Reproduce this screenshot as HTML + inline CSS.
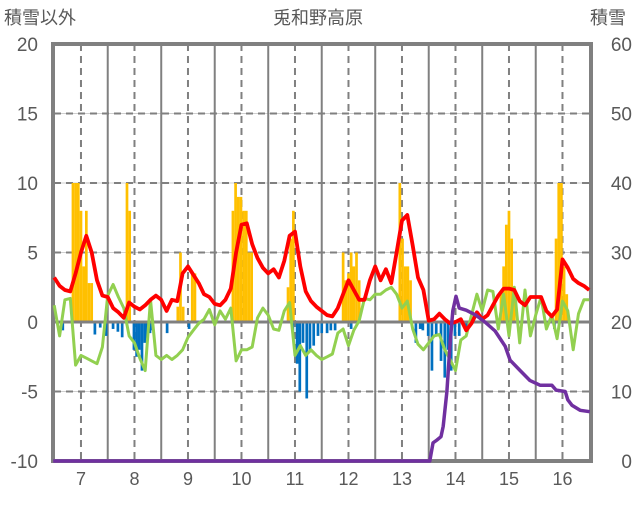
<!DOCTYPE html>
<html><head><meta charset="utf-8">
<style>
html,body{margin:0;padding:0;background:#fff;}
svg text{font-family:"Liberation Sans","Noto Sans CJK JP",sans-serif;fill:#595959;}
</style></head>
<body>
<svg id="chart" width="636" height="501" viewBox="0 0 636 501" xmlns="http://www.w3.org/2000/svg">
<g id="grid"></g>
<g id="bars"></g>
<g id="lines"></g>
<g id="axes"></g>
<text x="318" y="24" text-anchor="middle" font-size="18">兎和野高原</text>
<text x="4" y="24" font-size="18">積雪以外</text>
<text x="590" y="24" font-size="18">積雪</text>
</svg>
<script>
const xTicks=[7,8,9,10,11,12,13,14,15,16];
const yLeftTicks=[-10,-5,0,5,10,15,20];
const yRightTicks=[0,10,20,30,40,50,60];
const lineT0=6.5, lineDt=0.1;
const redValues=[3.2,2.6,2.3,2.2,3.5,5.0,6.2,5.0,3.0,1.9,1.8,1.0,0.7,0.3,1.4,1.1,0.9,1.2,1.6,1.9,1.6,0.8,1.6,1.5,3.5,4.0,3.4,2.8,2.0,1.8,1.3,1.2,1.6,2.4,5.0,7.0,7.1,5.6,4.6,3.9,3.5,3.8,3.2,4.4,6.2,6.5,4.0,2.2,1.5,1.1,0.8,0.5,0.4,1.0,2.0,3.0,2.3,1.6,1.6,3.0,4.0,3.0,3.8,2.8,5.0,7.3,7.7,5.5,3.2,2.3,0.1,0.2,0.6,0.2,-0.1,0,0.2,-0.6,-0.1,0.7,0.2,0.5,1.2,1.9,2.4,2.4,2.3,1.5,1.2,1.8,1.8,1.8,0.8,0.4,0.9,4.5,3.9,3.1,2.8,2.6,2.3];
const greenValues=[1.2,-1.0,1.6,1.7,-3.1,-2.4,-2.6,-2.8,-3.0,-1.8,1.9,2.7,1.8,1.0,-1.0,-1.5,-2.6,-3.5,1.6,-2.4,-2.7,-2.4,-2.7,-2.4,-2.0,-1.1,-0.6,-0.1,0.2,0.9,-0.2,0.8,0.2,1.0,-2.8,-2.0,-2.0,-1.8,0.3,1.0,0.5,-0.5,-0.6,0.8,1.4,-2.4,-1.7,-2.4,-2.0,-2.4,-2.7,-2.5,-2.3,-0.8,-0.5,-1.7,-0.6,0.1,1.7,1.6,2.0,2.0,2.3,2.5,2.0,1.0,1.5,-0.5,-1.6,-2.0,-1.5,-1.0,-0.9,-2.0,-2.7,-3.5,-1.3,-1.0,0.5,2.0,0.8,2.3,2.2,-0.5,2.0,-1.0,2.5,-1.5,2.3,-1.0,0.5,1.8,-0.5,0.5,-1.2,1.5,0.8,-2.0,0.6,1.6,1.6];
const snowDays=[6.48,13.52,13.58,13.65,13.73,13.77,13.84,13.90,13.95,14.01,14.07,14.20,14.38,14.55,14.74,14.93,15.02,15.21,15.39,15.58,15.80,15.88,16.05,16.10,16.18,16.33,16.51];
const snowDepth=[0,0,2.6,3,3.5,5,10,17,21.6,23.7,22,21.7,21,20,18.7,16.5,14.5,13,11.6,10.9,10.9,10.2,10,8.8,8,7.3,7.1];
const posBarDays=[6.85,6.90,6.95,7.00,7.05,7.10,7.15,7.20,7.86,7.91,8.81,8.86,8.91,9.08,9.13,9.84,9.89,9.94,9.99,10.04,10.09,10.14,10.19,10.87,10.92,10.97,11.90,11.95,12.00,12.05,12.10,12.15,12.20,12.96,13.01,13.06,13.11,13.16,14.85,14.90,14.95,15.00,15.05,15.10,15.88,15.93,15.98,16.03,16.08];
const posBarValues=[10,10,10,8,4,8,2.8,2.8,10,8,1.1,5,1.1,3.5,3.5,8,10,9,9,8,8,5,5,2.5,6,8,5,3,3.5,5,4,5,3,10,6,4,4,3,2,4,7,8,6,2,6,10,10,4,2];
const negBarDays=[6.66,7.26,7.36,7.47,7.60,7.69,7.77,7.99,8.04,8.09,8.14,8.19,8.24,8.29,8.34,8.61,9.02,10.96,11.04,11.09,11.15,11.22,11.28,11.35,11.43,11.50,11.60,11.67,11.75,12.05,13.26,13.34,13.39,13.49,13.56,13.64,13.73,13.80,13.86,13.92,13.99,14.07,14.20,15.85];
const negBarValues=[-0.6,-0.9,-0.4,-1.0,-0.5,-0.7,-1.1,-2.0,-2.5,-2.0,-3.5,-1.5,-1.2,-0.8,-0.6,-0.8,-0.5,-0.8,-3,-5,-1.5,-5.5,-2,-1.7,-1.0,-0.8,-0.8,-0.6,-0.6,-0.5,-1.5,-0.5,-0.6,-1.0,-3.5,-1.0,-2.8,-4,-2,-3.5,-1.0,-1.0,-0.5,-0.5];

const L=54,R=591,T=44,B=461,D0=6.477,PXD=53.5;
const X=d=>L-1+(d-D0)*PXD;
const YL=v=>B-(v+10)/30*(B-T);
const YR=v=>B-v/60*(B-T);
const NS='http://www.w3.org/2000/svg';
function mk(tag,attrs,parent){const e=document.createElementNS(NS,tag);for(const k in attrs)e.setAttribute(k,attrs[k]);parent.appendChild(e);return e;}
const grid=document.getElementById('grid'),bars=document.getElementById('bars'),lines=document.getElementById('lines'),axes=document.getElementById('axes');

yLeftTicks.forEach(v=>{
  if(v===-10||v===20||v===0)return;
  const y=YL(v);
  const a=mk('line',{x1:L,x2:R,y1:y,y2:y,stroke:'#d0d0d0','stroke-width':1},grid);
  
  
  const b=mk('line',{x1:L,x2:R,y1:y,y2:y,stroke:'#808080','stroke-width':2,'stroke-dasharray':'7,5'},grid);
  
  
});
xTicks.forEach(d=>{
  const x=X(d);
  const a=mk('line',{x1:x,x2:x,y1:T,y2:B,stroke:'#808080','stroke-width':2,'stroke-dasharray':'7,5'},grid);
  
  
  const xs=X(d+0.5);
  if(xs<R-2){
    const b=mk('line',{x1:xs,x2:xs,y1:T,y2:B,stroke:'#808080','stroke-width':2},grid);
    
    
  }
  const t=mk('text',{x:x,y:485,'text-anchor':'middle','font-size':18},axes);
  t.textContent=d;
  
  
});
const bw=2.7;
posBarDays.forEach((d,i)=>{
  const y=YL(posBarValues[i]),y0=YL(0);
  const r=mk('rect',{x:X(d)-bw/2,y:y,width:bw,height:y0-y,fill:'#FFC000'},bars);
  
  
});
negBarDays.forEach((d,i)=>{
  const y=YL(negBarValues[i]),y0=YL(0);
  const r=mk('rect',{x:X(d)-bw/2,y:y0,width:bw,height:y-y0,fill:'#0070C0'},bars);
  
  
});
const z=mk('line',{x1:L,x2:R,y1:YL(0),y2:YL(0),stroke:'#808080','stroke-width':3},grid.parentNode);


lines.parentNode.appendChild(lines);

function poly(vals,color,w,name){
  const pts=vals.map((v,i)=>X(lineT0+i*lineDt).toFixed(1)+','+YL(v).toFixed(1)).join(' ');
  const p=mk('polyline',{points:pts,fill:'none',stroke:color,'stroke-width':w,'stroke-linejoin':'round'},lines);
  
  
}
poly(greenValues,'#92D050',3,'green-series-line');
poly(redValues,'#FF0000',3.8,'red-series-line');
const sp=snowDays.map((d,i)=>X(d).toFixed(1)+','+YR(snowDepth[i]).toFixed(1)).join(' ');
const sl=mk('polyline',{points:sp,fill:'none',stroke:'#7030A0','stroke-width':3.5,'stroke-linejoin':'round'},lines);



const fr=mk('rect',{x:L-1,y:T,width:R-L+1,height:B-T,fill:'none',stroke:'#808080','stroke-width':4},axes);


yLeftTicks.forEach(v=>{
  const t=mk('text',{x:38,y:YL(v)+7,'text-anchor':'end','font-size':19},axes);
  t.textContent=v;
  
  
});
yRightTicks.forEach(v=>{
  const t=mk('text',{x:632,y:YR(v)+7,'text-anchor':'end','font-size':19},axes);
  t.textContent=v;
  
  
});
</script>
</body></html>
